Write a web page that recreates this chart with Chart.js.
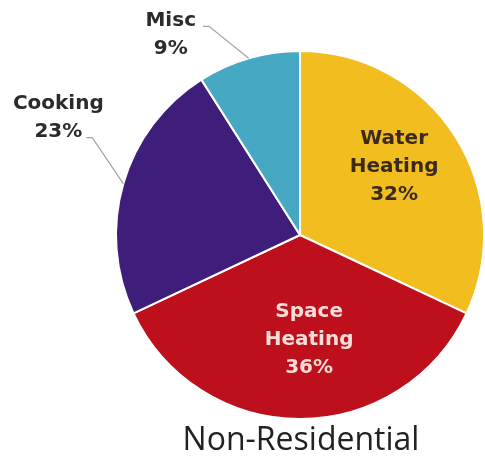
<!DOCTYPE html>
<html>
<head>
<meta charset="utf-8">
<script src="https://cdn.jsdelivr.net/npm/chart.js@4"></script>
<style>
    body { margin: 0; background: #fff; }
    #wrap { width: 485px; height: 456px; }
</style>
</head>
<body>
<div id="wrap"><canvas id="energyPie" width="485" height="456"></canvas></div>
<script>
const categories = ["Water Heating", "Space Heating", "Cooking", "Misc"];
const shares = [32, 36, 23, 9];
const sliceColors = ["#F2BD1F", "#BE101C", "#3E1E7A", "#46A8C3"];
const chartTitle = "Non-Residential";

// where each slice's text sits: angle shift (deg) from slice middle, distance as a fraction of the radius
const labelPlacement = [
    { inside: true, shift: -3.6, dist: 0.632, color: "#3b2a1c" },
    { inside: true, shift: -5, dist: 0.57, color: "#f7dcd8" },
    { inside: false, shift: 9.7, dist: 1.46, color: "#2b2b2b", leaderLine: 1 },
    { inside: false, shift: -16.6, dist: 1.297, color: "#2b2b2b", leaderLine: 0 },
];

const pieLabels = {
    id: "pieLabels",
    afterDatasetsDraw(chart) {
        const ctx = chart.ctx;
        const arcs = chart.getDatasetMeta(0).data;
        const lineGap = 28;
        ctx.save();
        ctx.font = "bold 20px 'DejaVu Sans'";
        ctx.textAlign = "center";
        ctx.textBaseline = "middle";

        arcs.forEach((arc, i) => {
            const place = labelPlacement[i];
            const mid = (arc.startAngle + arc.endAngle) / 2;
            const a = mid + place.shift * Math.PI / 180;
            const r = arc.outerRadius * place.dist;
            const x = arc.x + Math.cos(a) * r;
            const y = arc.y + Math.sin(a) * r;
            const lines = categories[i].split(" ").concat([shares[i] + "%"]);
            const top = y - (lines.length - 1) * lineGap / 2;

            if (!place.inside) {
                const k = place.leaderLine;
                const w = ctx.measureText(lines[k]).width;
                const ly = top + k * lineGap + 6;
                const endX = x + w / 2 + (k === 0 ? 7 : 4);
                ctx.strokeStyle = "#a3a3a3";
                ctx.lineWidth = 1.2;
                ctx.beginPath();
                ctx.moveTo(arc.x + Math.cos(mid) * arc.outerRadius, arc.y + Math.sin(mid) * arc.outerRadius);
                ctx.lineTo(endX + 6, ly);
                ctx.lineTo(endX, ly);
                ctx.stroke();
            }

            ctx.fillStyle = place.color;
            lines.forEach((txt, j) => ctx.fillText(txt, x, top + j * lineGap));
        });

        ctx.font = "32px 'Open Sans'";
        ctx.fillStyle = "#222";
        ctx.textBaseline = "alphabetic";
        ctx.fillText(chartTitle, 301, 450);
        ctx.restore();
    }
};

new Chart(document.getElementById("energyPie"), {
    type: "pie",
    data: {
        labels: categories,
        datasets: [{
            data: shares,
            backgroundColor: sliceColors,
            borderColor: "#ffffff",
            borderWidth: 2
        }]
    },
    options: {
        responsive: false,
        animation: false,
        layout: { padding: { left: 115, right: 0, top: 49, bottom: 35 } },
        plugins: {
            legend: { display: false },
            tooltip: { enabled: false }
        }
    },
    plugins: [pieLabels]
});
</script>
</body>
</html>
